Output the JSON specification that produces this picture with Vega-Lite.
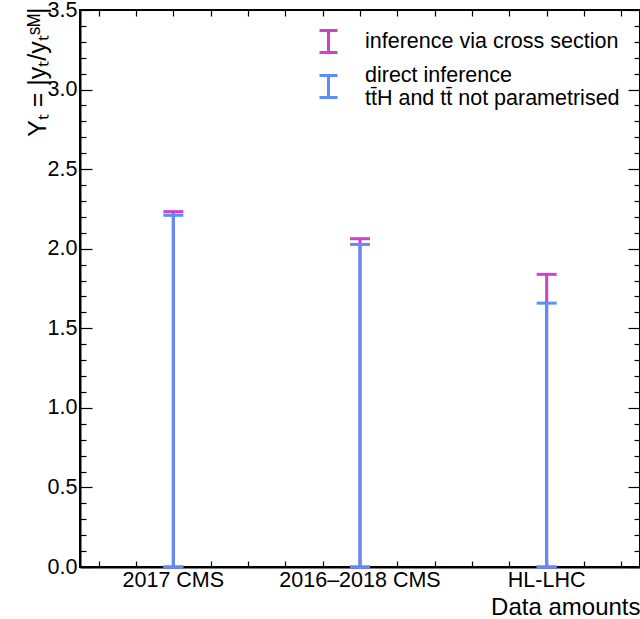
{
  "$schema": "https://vega.github.io/schema/vega-lite/v6.json",
  "width": 560,
  "height": 557,
  "autosize": {"type": "none"},
  "padding": {"left": 80, "top": 10, "right": 0, "bottom": 52},
  "background": "white",
  "config": {
    "font": "Liberation Sans",
    "view": {"stroke": "black", "strokeWidth": 2},
    "axis": {
      "grid": false,
      "labelFont": "Liberation Sans",
      "labelFontSize": 21.5,
      "labelColor": "black",
      "titleFont": "Liberation Sans",
      "titleColor": "black",
      "titleFontWeight": "normal",
      "domainColor": "black",
      "domainWidth": 2,
      "tickColor": "black",
      "tickWidth": 1.2
    },
    "legend": {
      "labelFont": "Liberation Sans",
      "labelFontSize": 21.5,
      "labelColor": "black"
    }
  },
  "data": {
    "values": [
      {"amount": "2017 CMS", "kind": "cross", "lo": 0, "hi": 2.233},
      {"amount": "2016–2018 CMS", "kind": "cross", "lo": 0, "hi": 2.063},
      {"amount": "HL-LHC", "kind": "cross", "lo": 0, "hi": 1.839},
      {"amount": "2017 CMS", "kind": "direct", "lo": 0, "hi": 2.21},
      {"amount": "2016–2018 CMS", "kind": "direct", "lo": 0, "hi": 2.027},
      {"amount": "HL-LHC", "kind": "direct", "lo": 0, "hi": 1.658}
    ]
  },
  "resolve": {"scale": {"x": "independent"}, "axis": {"x": "independent", "y": "independent"}},
  "layer": [
    {
      "mark": {"type": "rule", "strokeWidth": 3, "opacity": 1},
      "encoding": {
        "x": {
          "field": "amount", "type": "nominal", "sort": null,
          "scale": {"paddingInner": 0, "paddingOuter": 0},
          "axis": {"orient": "bottom", "ticks": false, "labelAngle": 0, "labelPadding": 2,
                   "title": "Data amounts", "titleFontSize": 24, "titleAnchor": "end",
                   "titleAlign": "right", "titleBaseline": "alphabetic", "titleX": 560, "titleY": 47}
        },
        "y": {
          "field": "lo", "type": "quantitative",
          "scale": {"domain": [0, 3.5], "nice": false},
          "axis": {"orient": "left", "values": [0, 0.5, 1, 1.5, 2, 2.5, 3, 3.5], "format": ".1f",
                   "tickSize": -12, "labelPadding": 15,
                   "title": "Yₜ = |yₜ/yₜˢᴹ|", "titleFontSize": 25, "titleAngle": -90,
                   "titleAlign": "right", "titleBaseline": "alphabetic", "titleX": -35, "titleY": -3}
        },
        "y2": {"field": "hi"},
        "color": {
          "field": "kind", "type": "nominal",
          "scale": {"domain": ["cross", "direct"], "range": ["#d040d0", "#5b8ef7"]},
          "legend": {
            "orient": "none", "legendX": 237, "legendY": 20, "title": null, "padding": 0,
            "symbolType": "M-0.9,-1.1H0.9M0,-1.1V1.1M-0.9,1.1H0.9",
            "symbolSize": 400, "symbolStrokeWidth": 3, "symbolFillColor": "transparent",
            "symbolOpacity": 1,
            "labelOffset": 25, "labelLimit": 500, "rowPadding": 5,
            "labelExpr": "datum.label == 'direct' ? ['direct inference', 'tt̄H and tt̄ not parametrised'] : 'inference via cross section'",
            "encoding": {
              "labels": {"dy": {"value": {"expr": "datum.value == 'direct' ? -11 : 0"}}}
            }
          }
        }
      }
    },
    {
      "mark": {"type": "tick", "thickness": 3, "size": 20, "opacity": 1},
      "encoding": {
        "x": {"field": "amount", "type": "nominal", "sort": null,
              "scale": {"paddingInner": 0, "paddingOuter": 0}, "axis": null},
        "y": {"field": "hi", "type": "quantitative",
              "axis": {"orient": "left", "values": [0.1,0.2,0.3,0.4,0.6,0.7,0.8,0.9,1.1,1.2,1.3,1.4,1.6,1.7,1.8,1.9,2.1,2.2,2.3,2.4,2.6,2.7,2.8,2.9,3.1,3.2,3.3,3.4],
                       "tickSize": -6, "labels": false, "domain": false, "title": null}},
        "color": {"field": "kind", "type": "nominal", "legend": null}
      }
    },
    {
      "mark": {"type": "tick", "thickness": 3, "size": 20, "opacity": 1},
      "encoding": {
        "x": {"field": "amount", "type": "nominal", "sort": null,
              "scale": {"paddingInner": 0, "paddingOuter": 0}, "axis": null},
        "y": {"field": "lo", "type": "quantitative",
              "axis": {"orient": "right", "values": [0, 0.5, 1, 1.5, 2, 2.5, 3, 3.5],
                       "tickSize": -12, "labels": false, "domain": false, "title": null}},
        "color": {"field": "kind", "type": "nominal", "legend": null}
      }
    },
    {
      "mark": {"type": "point", "opacity": 0},
      "encoding": {
        "x": {"field": "lo", "type": "quantitative", "scale": {"domain": [0, 3], "nice": false},
              "axis": {"orient": "bottom", "values": [0.1,0.3,0.5,0.7,0.9,1.1,1.3,1.5,1.7,1.9,2.1,2.3,2.5,2.7,2.9],
                       "tickSize": -6, "labels": false, "domain": false, "title": null}},
        "y": {"field": "lo", "type": "quantitative",
              "axis": {"orient": "right", "values": [0.1,0.2,0.3,0.4,0.6,0.7,0.8,0.9,1.1,1.2,1.3,1.4,1.6,1.7,1.8,1.9,2.1,2.2,2.3,2.4,2.6,2.7,2.8,2.9,3.1,3.2,3.3,3.4],
                       "tickSize": -6, "labels": false, "domain": false, "title": null}}
      }
    },
    {
      "mark": {"type": "point", "opacity": 0},
      "encoding": {
        "x": {"field": "lo", "type": "quantitative", "scale": {"domain": [0, 3], "nice": false},
              "axis": {"orient": "top", "values": [0.1,0.3,0.5,0.7,0.9,1.1,1.3,1.5,1.7,1.9,2.1,2.3,2.5,2.7,2.9],
                       "tickSize": -6, "labels": false, "domain": false, "title": null}},
        "y": {"field": "lo", "type": "quantitative", "axis": null}
      }
    }
  ]
}
